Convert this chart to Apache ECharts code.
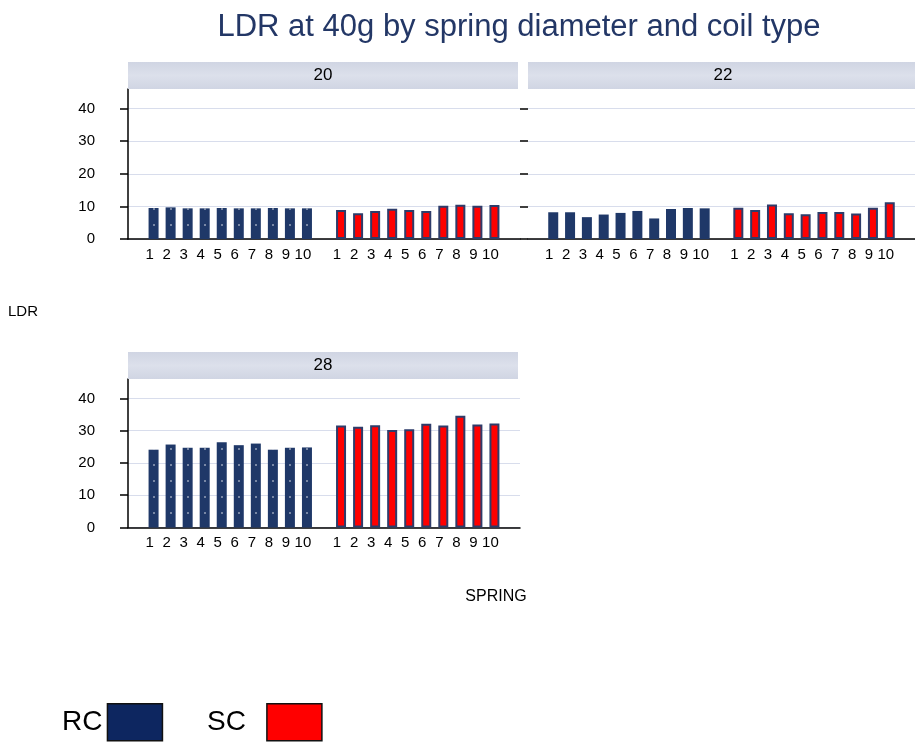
<!DOCTYPE html>
<html>
<head>
<meta charset="utf-8">
<script src="https://cdn.jsdelivr.net/npm/echarts@6/dist/echarts.min.js"></script>
<style>html,body{margin:0;padding:0;background:#fff}#c{width:915px;height:742px}</style>
</head>
<body>
<div id="c"></div>
<script>
// ---- data ----
const springs = ['1','2','3','4','5','6','7','8','9','10'];
const panels = ['20','22','28'];
const rc20 = [9.5, 9.7, 9.4, 9.4, 9.5, 9.4, 9.4, 9.5, 9.4, 9.4];
const sc20 = [8.9, 7.9, 8.6, 9.3, 8.9, 8.6, 10.2, 10.5, 10.2, 10.4];
const rc22 = [8.2, 8.2, 6.7, 7.5, 8.0, 8.6, 6.3, 9.2, 9.5, 9.4];
const sc22 = [9.6, 8.9, 10.6, 7.9, 7.6, 8.3, 8.3, 7.8, 9.6, 11.3];
const rc28 = [24.1, 25.7, 24.7, 24.7, 26.4, 25.5, 26.0, 24.1, 24.7, 24.8];
const sc28 = [31.6, 31.2, 31.7, 30.2, 30.4, 32.1, 31.6, 34.6, 31.9, 32.2];
const yTicks = [0, 10, 20, 30, 40];

// ---- build ----
const cats = ['gapA'].concat(springs.map(s => 'RC' + s), ['gapM'], springs.map(s => 'SC' + s), ['gapZ']);
function rcRow(v){ return ['-'].concat(v, ['-'], springs.map(() => '-'), ['-']); }
function scRow(v){ return ['-'].concat(springs.map(() => '-'), ['-'], v, ['-']); }

const FONT = '"Liberation Sans", Arial, sans-serif';
const RC_COLOR = '#1f3868';
const SC_COLOR = '#ff0000';

const gridsPos = [
  {left: 128, top: 89, width: 392, height: 150},
  {left: 528, top: 89, width: 392, height: 150},
  {left: 128, top: 379, width: 392, height: 148.5}
];
const data = [[rc20, sc20], [rc22, sc22], [rc28, sc28]];

const grid = [], xAxis = [], yAxis = [], series = [], graphic = [];
gridsPos.forEach((g, i) => {
  grid.push(Object.assign({containLabel: false}, g));
  xAxis.push({
    type: 'category', gridIndex: i, data: cats,
    axisLine: {show: true, lineStyle: {color: '#000', width: 1.5}},
    axisTick: {show: false},
    axisLabel: {
      interval: 0, color: '#000', fontSize: 15, fontFamily: FONT, margin: 8,
      padding: [0, 8, 0, 0],
      formatter: v => v.startsWith('gap') ? '' : v.slice(2)
    },
    splitLine: {show: false}
  });
  yAxis.push({
    type: 'value', gridIndex: i, min: 0, max: 46, interval: 10,
    axisLine: {show: i !== 1, lineStyle: {color: '#000', width: 1.5}},
    axisTick: {show: true, length: 8, customValues: yTicks, lineStyle: {color: '#000', width: 1.5}},
    axisLabel: {
      show: i !== 1, color: '#000', fontSize: 15, fontFamily: FONT, margin: 33,
      customValues: yTicks
    },
    splitLine: {show: true, lineStyle: {color: '#d8ddec', width: 1.2}}
  });
  series.push({
    name: 'RC', type: 'bar', xAxisIndex: i, yAxisIndex: i, barWidth: 10, barGap: '-100%',
    data: rcRow(data[i][0]),
    itemStyle: {
      color: RC_COLOR,
      decal: {symbol: 'rect', symbolSize: 1, color: 'rgba(255,255,255,0.4)',
              dashArrayX: [[2, 15]], dashArrayY: [2, 14], rotation: 0}
    }
  });
  series.push({
    name: 'SC', type: 'bar', xAxisIndex: i, yAxisIndex: i, barWidth: 10, barGap: '-100%',
    data: scRow(data[i][1]),
    itemStyle: {color: SC_COLOR, borderColor: '#2e3c6a', borderWidth: 2}
  });
  // strip header
  const sw = i === 1 ? 392 : 390;
  graphic.push({
    type: 'rect', z: 100,
    shape: {x: g.left, y: g.top - 27, width: sw, height: 27},
    style: {fill: new echarts.graphic.LinearGradient(0, 0, 0, 1, [
      {offset: 0, color: '#d0d5e3'}, {offset: 0.5, color: '#dce0eb'}, {offset: 1, color: '#d0d5e3'}])}
  });
  graphic.push({
    type: 'text', z: 101,
    x: g.left + 195, y: g.top - 13.5,
    style: {text: panels[i], fill: '#000', font: '17px ' + FONT, align: 'center', verticalAlign: 'middle'}
  });
});

graphic.push({type: 'text', x: 8, y: 312, style: {text: 'LDR', fill: '#000', font: '15px ' + FONT, verticalAlign: 'middle'}});
graphic.push({type: 'text', x: 496, y: 597, style: {text: 'SPRING', fill: '#000', font: '16px ' + FONT, align: 'center', verticalAlign: 'middle'}});

const legendBase = {
  top: 703, align: 'right', itemWidth: 55, itemHeight: 37, padding: 0,
  icon: 'rect', selectedMode: false
};
const legendText = {color: '#000', fontSize: 28, fontFamily: FONT};

const chart = echarts.init(document.getElementById('c'), null, {renderer: 'canvas'});
chart.setOption({
  animation: false,
  backgroundColor: '#fff',
  title: {
    text: 'LDR at 40g by spring diameter and coil type',
    left: 519, top: 12, textAlign: 'center', padding: 0,
    textStyle: {color: '#233766', fontSize: 31, fontWeight: 'normal', fontFamily: FONT}
  },
  legend: [
    Object.assign({}, legendBase, {
      left: 62, textStyle: legendText,
      data: [{name: 'RC', itemStyle: {color: '#0d2660', borderColor: '#111', borderWidth: 1.5, decal: 'none'}}]
    }),
    Object.assign({}, legendBase, {
      left: 207, textStyle: Object.assign({}, legendText, {padding: [0, 16, 0, 0]}),
      data: [{name: 'SC', itemStyle: {color: '#ff0000', borderColor: '#111', borderWidth: 1.5}}]
    })
  ],
  grid, xAxis, yAxis, series, graphic
});
</script>
</body>
</html>
